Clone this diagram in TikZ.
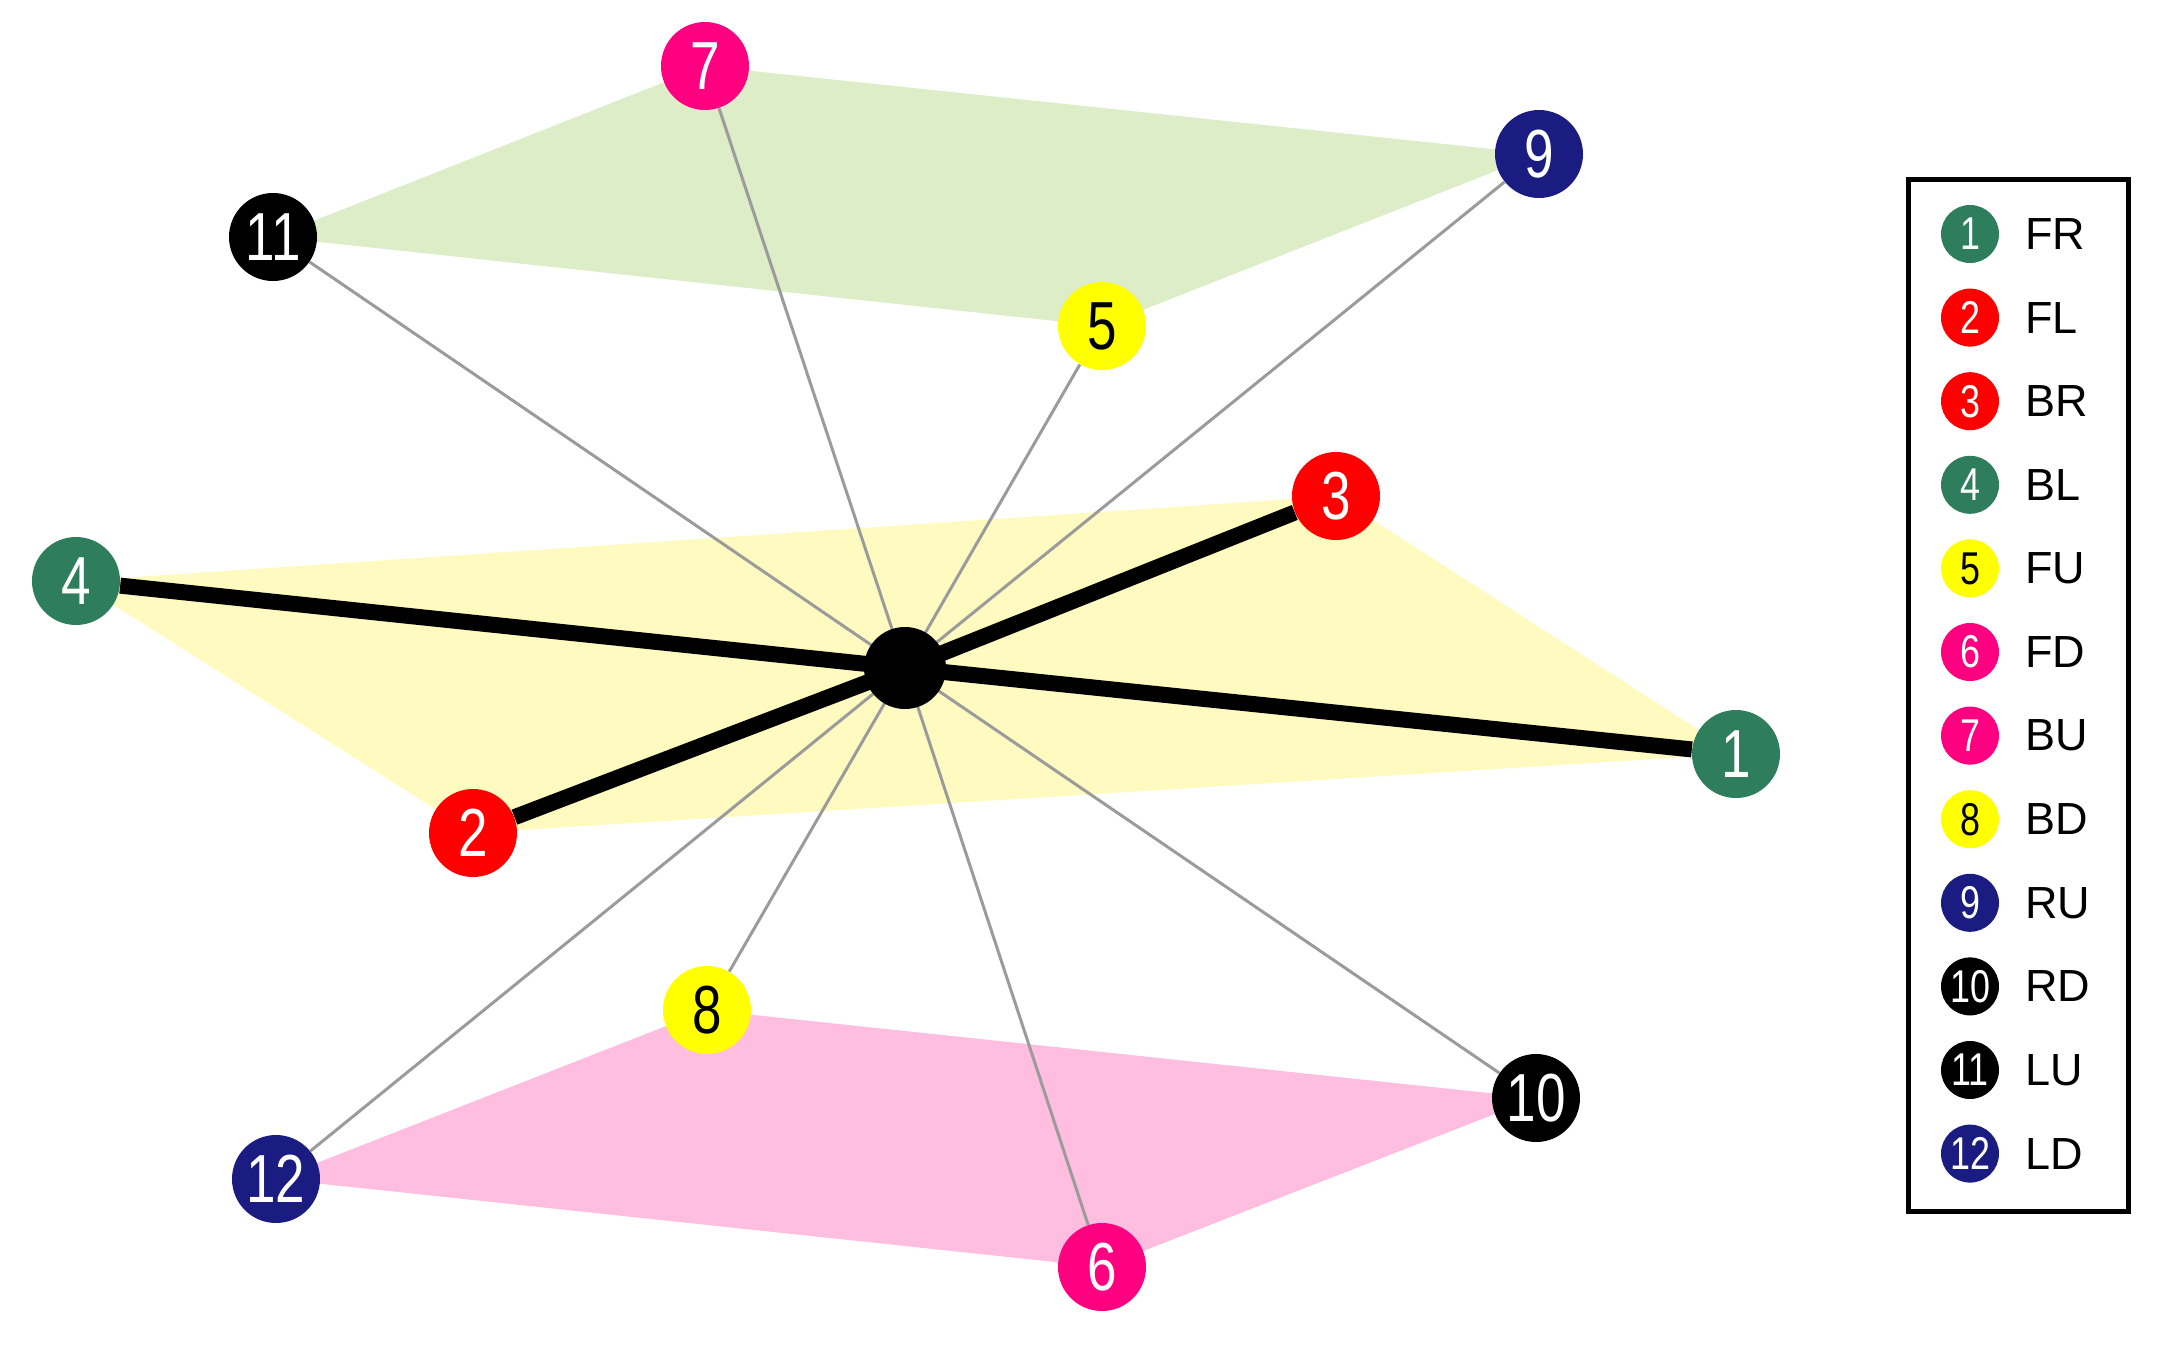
\documentclass[tikz,border=0pt]{standalone}
\usepackage{fontspec}
\setmainfont{Liberation Sans}
\newfontfamily\narrowfont{Liberation Sans}[FakeStretch=0.78]
\usetikzlibrary{backgrounds}
\pgfdeclarelayer{planes}
\pgfdeclarelayer{edges}
\pgfsetlayers{planes,edges,main}
\definecolor{cgreen}{RGB}{46,125,92}
\definecolor{cred}{RGB}{255,0,0}
\definecolor{cyel}{RGB}{255,255,0}
\definecolor{cmag}{RGB}{255,0,128}
\definecolor{cnavy}{RGB}{26,28,130}
\definecolor{pgreen}{RGB}{221,237,200}
\definecolor{pyellow}{RGB}{255,250,192}
\definecolor{ppink}{RGB}{255,190,224}
\definecolor{egray}{RGB}{155,155,155}
\tikzset{
  vtx/.style={circle, inner sep=0pt, minimum size=44pt, font=\narrowfont\fontsize{34}{34}\selectfont, text=white},
  hub/.style={circle, fill=black, inner sep=0pt, minimum size=41pt},
  thickedge/.style={line width=8pt, black},
  thinedge/.style={line width=1.5pt, egray},
  legdot/.style={circle, inner sep=0pt, minimum size=29pt, font=\narrowfont\fontsize{23}{23}\selectfont, text=white},
  leglab/.style={anchor=west, font=\fontsize{22.5}{22.5}\selectfont, inner sep=0pt},
  legframe/.style={draw=black, line width=2.5pt, minimum width=110pt, minimum height=516pt, inner sep=0pt}
}
\begin{document}
\begin{tikzpicture}[x=0.5pt,y=-0.5pt]
\useasboundingbox (0,0) rectangle (2160,1366);
% vertices
\node[hub] (c) at (905,668) {};
\node[vtx, fill=cgreen] (n1) at (1736,754) {1};
\node[vtx, fill=cred] (n2) at (473,833) {2};
\node[vtx, fill=cred] (n3) at (1336,496) {3};
\node[vtx, fill=cgreen] (n4) at (76,581) {4};
\node[vtx, fill=cyel, text=black] (n5) at (1102,326) {5};
\node[vtx, fill=cmag] (n6) at (1102,1267) {6};
\node[vtx, fill=cmag] (n7) at (705,66) {7};
\node[vtx, fill=cyel, text=black] (n8) at (707,1010) {8};
\node[vtx, fill=cnavy] (n9) at (1539,154) {9};
\node[vtx, fill=black] (n10) at (1536,1098) {10};
\node[vtx, fill=black] (n11) at (273,237) {11};
\node[vtx, fill=cnavy] (n12) at (276,1179) {12};
% planes
\begin{pgfonlayer}{planes}
\fill[pgreen] (n11.center) -- (n7.center) -- (n9.center) -- (n5.center) -- cycle;
\fill[pyellow] (n4.center) -- (n3.center) -- (n1.center) -- (n2.center) -- cycle;
\fill[ppink] (n12.center) -- (n8.center) -- (n10.center) -- (n6.center) -- cycle;
\end{pgfonlayer}
% edges
\begin{pgfonlayer}{edges}
\foreach \k in {5,6,7,8,9,10,11,12} {\draw[thinedge] (c.center) -- (n\k);}
\draw[thickedge] (n4) -- (c.center) -- (n1);
\draw[thickedge] (n2) -- (c.center) -- (n3);
\end{pgfonlayer}
% legend
\node[legframe] (legend) at (2018,695.5) {};
\foreach \i/\col/\tc/\lab in {1/cgreen/white/FR, 2/cred/white/FL, 3/cred/white/BR, 4/cgreen/white/BL, 5/cyel/black/FU, 6/cmag/white/FD, 7/cmag/white/BU, 8/cyel/black/BD, 9/cnavy/white/RU, 10/black/white/RD, 11/black/white/LU, 12/cnavy/white/LD} {
  \pgfmathsetmacro{\yy}{234+(\i-1)*83.6}
  \node[legdot, fill=\col, text=\tc] (ld\i) at (1970,\yy) {\i};
  \node[leglab] (ll\i) at (2025,\yy) {\lab};
}
\end{tikzpicture}
\end{document}
